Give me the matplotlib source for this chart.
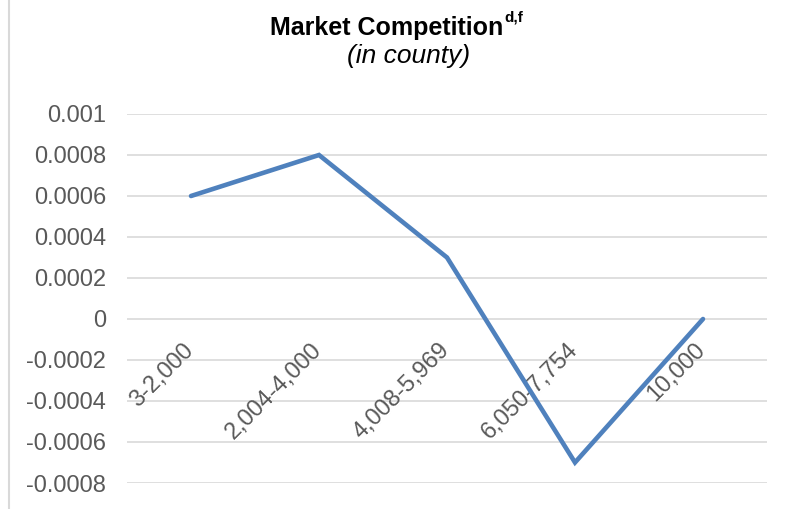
import matplotlib.pyplot as plt
from matplotlib.lines import Line2D
import matplotlib.transforms as mtransforms

# household-count bands and the estimated effect for each
categories = ['3-2,000', '2,004-4,000', '4,008-5,969', '6,050-7,754', '10,000']
effects = [0.0006, 0.0008, 0.0003, -0.0007, 0.0]
y_ticks = [0.001, 0.0008, 0.0006, 0.0004, 0.0002, 0, -0.0002, -0.0004, -0.0006, -0.0008]
y_labels = ['0.001', '0.0008', '0.0006', '0.0004', '0.0002', '0',
            '-0.0002', '-0.0004', '-0.0006', '-0.0008']

plt.rcParams['font.family'] = ['Liberation Sans', 'DejaVu Sans']

W, H = 792, 509
fig = plt.figure(figsize=(W / 100, H / 100), dpi=100)
ax = fig.add_axes([127 / W, 1 - 483 / H, (767 - 127) / W, (483 - 114) / H])

x = list(range(len(categories)))
ax.plot(x, effects, color='#4F81BD', linewidth=3.3, solid_capstyle='round',
        solid_joinstyle='miter', zorder=3)

ax.set_xlim(-0.5, len(categories) - 0.5)
ax.set_ylim(-0.0008, 0.001)
ax.set_yticks(y_ticks)
ax.set_yticklabels(y_labels)
ax.tick_params(axis='y', length=0, pad=15, labelsize=17, labelcolor='#595959')
ax.set_xticks([])
for s in ax.spines.values():
    s.set_visible(False)
ax.grid(axis='y', color='#D9D9D9', linewidth=1.2)
ax.set_axisbelow(True)

# category labels sit just under the zero line
offset = mtransforms.ScaledTranslation(7 / 100, -20 / 100, fig.dpi_scale_trans)
for i, lab in enumerate(categories):
    ax.text(i, 0, lab, rotation=45, ha='right', va='top', fontsize=17,
            color='#595959', transform=ax.transData + offset, zorder=2)

# chart title with superscript note markers
t = fig.text(386.5 / W, 1 - 35 / H, 'Market Competition', fontsize=18, fontweight='bold',
             ha='center', va='baseline', color='black')
fig.canvas.draw()
bb = t.get_window_extent()
fig.text(bb.x1 / W + 0.0015, 1 - 21 / H, 'd,f', fontsize=11, fontweight='bold',
         ha='left', va='baseline', color='black')
fig.text(409 / W, 1 - 63 / H, '(in county)', fontsize=19, fontstyle='italic',
         ha='center', va='baseline', color='black')

# left edge of the chart frame
fig.add_artist(Line2D([8.5 / W, 8.5 / W], [0, 1], transform=fig.transFigure,
                      color='#D9D9D9', linewidth=1.5))

fig.savefig('out.png', dpi=100)
